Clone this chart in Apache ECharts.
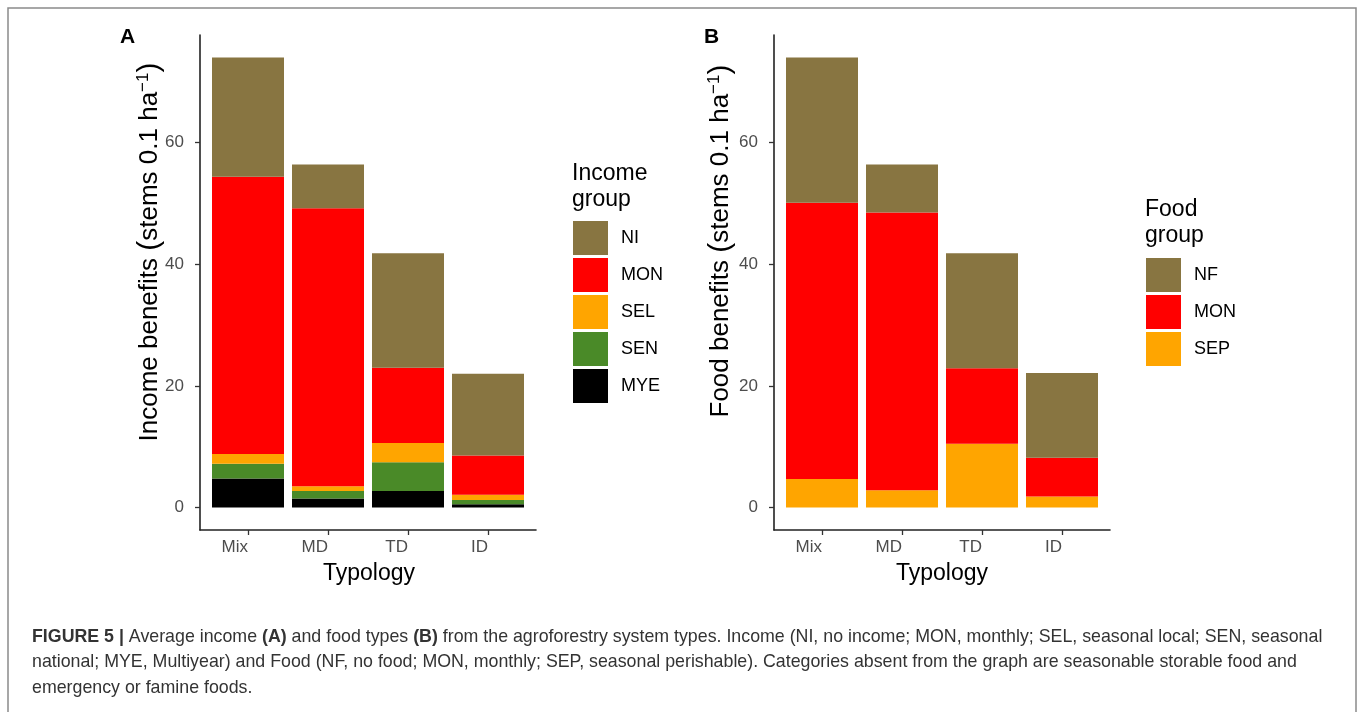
<!DOCTYPE html>
<html>
<head>
<meta charset="utf-8">
<script src="https://cdn.jsdelivr.net/npm/echarts@6/dist/echarts.min.js"></script>
<style>
html,body{margin:0;padding:0;background:#fff;}
#chart{width:1358px;height:712px;}
</style>
</head>
<body>
<div id="chart"></div>
<script>
// ---- data ----
const categories = ['Mix', 'MD', 'TD', 'ID'];
const incomeMYE = [4.75, 1.5, 2.7, 0.55];
const incomeSEN = [2.45, 1.2, 4.75, 0.7];
const incomeSEL = [1.6, 0.8, 3.15, 0.83];
const incomeMON = [45.6, 45.7, 12.4, 6.47];
const incomeNI  = [19.6, 7.2, 18.8, 13.45];
const foodSEP = [4.7, 2.85, 10.5, 1.8];
const foodMON = [45.4, 45.65, 12.4, 6.4];
const foodNF  = [23.9, 7.9, 18.9, 13.9];
const yTicks = [0, 20, 40, 60];
const incomeLegend = ['NI', 'MON', 'SEL', 'SEN', 'MYE'];
const foodLegend = ['NF', 'MON', 'SEP'];

const colors = { NI: '#887541', NF: '#887541', MON: '#FF0000', SEL: '#FFA500', SEP: '#FFA500', SEN: '#4A8A28', MYE: '#000000' };
const FONT = '"Liberation Sans", Arial, Helvetica, sans-serif';
const catIdx = categories.map((c, i) => i);
const Y_MIN = -3.7, Y_MAX = 77.7;

// axis frame grids (0,1) use value x-axes with ggplot-like 0.6 band expansion;
// bar grids (2,3) use category axes whose bands line up with those ticks.
function frameX(gridIndex) {
  return {
    type: 'value', gridIndex, min: -0.6, max: 3.6,
    axisLine: { show: true, onZero: false, lineStyle: { color: '#222', width: 1.6 } },
    axisTick: { show: true, length: 5, customValues: catIdx, lineStyle: { color: '#333', width: 1.3 } },
    axisLabel: { customValues: catIdx, formatter: v => categories[Math.round(v)], color: '#4d4d4d', fontSize: 17, fontFamily: FONT, margin: 9, align: 'right' },
    splitLine: { show: false }
  };
}
function frameY(gridIndex) {
  return {
    type: 'value', gridIndex, min: Y_MIN, max: Y_MAX,
    axisLine: { show: true, onZero: false, lineStyle: { color: '#222', width: 1.6 } },
    axisTick: { show: true, length: 5, customValues: yTicks, lineStyle: { color: '#333', width: 1.3 } },
    axisLabel: { customValues: yTicks, color: '#4d4d4d', fontSize: 17, fontFamily: FONT, margin: 16 },
    splitLine: { show: false }
  };
}
function barX(gridIndex) {
  return { type: 'category', gridIndex, data: categories, boundaryGap: true, show: false };
}
function barY(gridIndex) {
  return { type: 'value', gridIndex, min: Y_MIN, max: Y_MAX, show: false, splitLine: { show: false } };
}
function bar(name, arr, idx, stack) {
  return {
    type: 'bar', name, stack, xAxisIndex: idx, yAxisIndex: idx,
    barWidth: '90%', data: arr,
    itemStyle: { color: colors[name] }, emphasis: { disabled: true }, animation: false
  };
}
function legendDef(data, left, top) {
  return {
    orient: 'vertical', left, top, data, icon: 'rect', padding: 0,
    itemWidth: 35, itemHeight: 34, itemGap: 3, selectedMode: false,
    textStyle: { fontSize: 18, color: '#000', fontFamily: FONT, padding: [0, 0, 0, 8] }
  };
}
function yTitle(label, x, y) {
  return {
    type: 'text', x, y, rotation: Math.PI / 2,
    style: {
      text: label + ' {p|(}stems 0.1 ha{sup|\u22121}{p|)}',
      fontSize: 26, fontFamily: FONT, fill: '#000', align: 'center', verticalAlign: 'middle',
      rich: { sup: { fontSize: 17, verticalAlign: 'top', fontFamily: FONT }, p: { fontSize: 30, fontFamily: FONT } }
    }
  };
}
function xTitle(x) {
  return { type: 'text', x, y: 574, style: { text: 'Typology', fontSize: 23, fontFamily: FONT, fill: '#000', align: 'center', verticalAlign: 'middle' } };
}

const chart = echarts.init(document.getElementById('chart'));
chart.setOption({
  animation: false,
  backgroundColor: '#fff',
  grid: [
    { left: 200, top: 35, width: 336, height: 495 },
    { left: 774, top: 35, width: 336, height: 495 },
    { left: 208, top: 35, width: 320, height: 495 },
    { left: 782, top: 35, width: 320, height: 495 }
  ],
  xAxis: [frameX(0), frameX(1), barX(2), barX(3)],
  yAxis: [frameY(0), frameY(1), barY(2), barY(3)],
  legend: [legendDef(incomeLegend, 573, 221), legendDef(foodLegend, 1146, 258)],
  title: [
    { text: 'A', left: 120, top: 27, padding: 0, textStyle: { fontSize: 21, fontWeight: 'bold', color: '#000', fontFamily: FONT } },
    { text: 'B', left: 704, top: 27, padding: 0, textStyle: { fontSize: 21, fontWeight: 'bold', color: '#000', fontFamily: FONT } },
    { text: 'Income\ngroup', left: 572, top: 161, padding: 0, textStyle: { fontSize: 23, fontWeight: 'normal', lineHeight: 26, color: '#000', fontFamily: FONT } },
    { text: 'Food\ngroup', left: 1145, top: 197, padding: 0, textStyle: { fontSize: 23, fontWeight: 'normal', lineHeight: 26, color: '#000', fontFamily: FONT } }
  ],
  series: [
    bar('MYE', incomeMYE, 2, 'inc'),
    bar('SEN', incomeSEN, 2, 'inc'),
    bar('SEL', incomeSEL, 2, 'inc'),
    bar('MON', incomeMON, 2, 'inc'),
    bar('NI', incomeNI, 2, 'inc'),
    bar('SEP', foodSEP, 3, 'food'),
    bar('MON', foodMON, 3, 'food'),
    bar('NF', foodNF, 3, 'food')
  ],
  graphic: [
    { type: 'rect', shape: { x: 8, y: 8, width: 1348, height: 712 }, style: { fill: 'none', stroke: '#8a8a8a', lineWidth: 1.5 }, silent: true },
    yTitle('Income benefits', 150, 252),
    yTitle('Food benefits', 721, 241),
    xTitle(369),
    xTitle(942),
    { type: 'text', x: 32, y: 624, style: {
        text: '{b|FIGURE 5 |} Average income {b|(A)} and food types {b|(B)} from the agroforestry system types. Income (NI, no income; MON, monthly; SEL, seasonal local; SEN, seasonal\n' +
              'national; MYE, Multiyear) and Food (NF, no food; MON, monthly; SEP, seasonal perishable). Categories absent from the graph are seasonable storable food and\n' +
              'emergency or famine foods.',
        fontSize: 17.8, fontFamily: FONT, fill: '#333', align: 'left', verticalAlign: 'top', lineHeight: 25.5,
        rich: { b: { fontWeight: 'bold', fontSize: 17.8, fontFamily: FONT, fill: '#333', lineHeight: 25.5 } }
      } }
  ]
});
</script>
</body>
</html>
